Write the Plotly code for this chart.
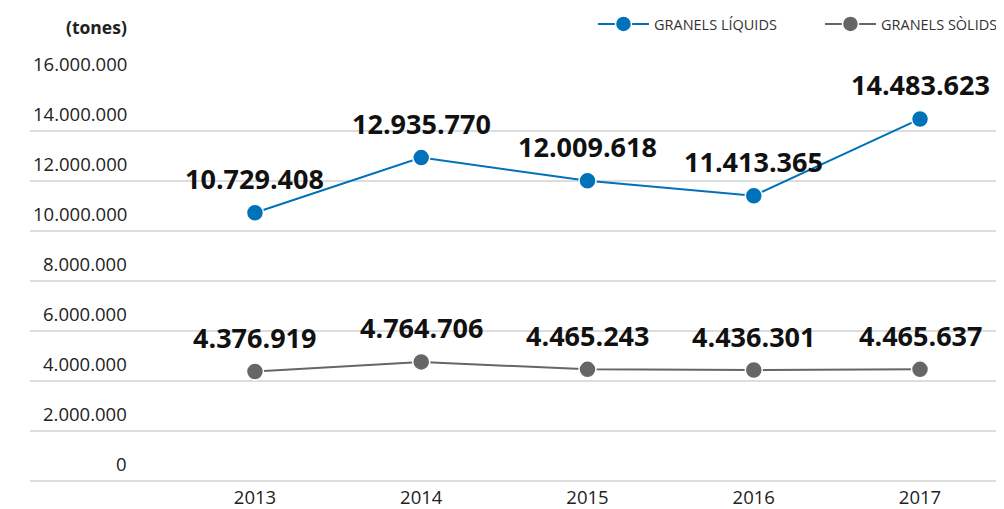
import plotly.graph_objects as go

years = [2013, 2014, 2015, 2016, 2017]
liquids = [10729408, 12935770, 12009618, 11413365, 14483623]
solids = [4376919, 4764706, 4465243, 4436301, 4465637]
y_ticks = [0, 2000000, 4000000, 6000000, 8000000, 10000000, 12000000, 14000000, 16000000]
series_names = ["GRANELS LÍQUIDS", "GRANELS SÒLIDS"]
colors = ["#0072B9", "#666666"]

def fmt(v):
    return f"{v:,}".replace(",", ".")

fig = go.Figure()
for name, vals, col in zip(series_names, [liquids, solids], colors):
    fig.add_trace(go.Scatter(
        x=years, y=vals, name=name, mode="lines+markers",
        line=dict(color=col, width=2),
        marker=dict(size=17, color=col, line=dict(color="white", width=1.5)),
        hoverinfo="skip",
    ))

annotations = []
for vals in [liquids, solids]:
    for x, v in zip(years, vals):
        annotations.append(dict(
            x=x, y=v, xref="x", yref="y", text="<b>" + fmt(v) + "</b>", showarrow=False,
            yshift=34, font=dict(family="Open Sans", size=27, color="#111111"),
        ))
for t in y_ticks:
    annotations.append(dict(
        x=0.102, y=t, xref="paper", yref="y", text=fmt(t), showarrow=False,
        xanchor="right", yshift=18, font=dict(family="Open Sans", size=18.5, color="#222222"),
    ))
annotations.append(dict(
    x=0.102, y=1, xref="paper", yref="paper", text="<b>(tones)</b>", showarrow=False,
    xanchor="right", yanchor="middle", yshift=54, font=dict(family="Open Sans", size=17.5, color="#222222"),
))

# page body has an 8px margin, so the figure is sized to fill the rest of the window
fig.update_layout(
    width=996, height=501,
    margin=dict(l=22, r=0, t=73, b=28, autoexpand=False),
    plot_bgcolor="white", paper_bgcolor="white",
    font=dict(family="Open Sans", size=15, color="#222222"),
    showlegend=True,
    legend=dict(orientation="h", x=0.578, xanchor="left", y=1.0, yanchor="top", yref="container",
                font=dict(size=14.5, color="#333333"), itemwidth=51, entrywidth=161,
                bgcolor="rgba(0,0,0,0)", tracegroupgap=0),
    annotations=annotations,
    xaxis=dict(range=[2011.647, 2017.505], tickvals=years, ticktext=[str(y) for y in years],
               showgrid=False, zeroline=False, showline=False, ticks="", ticklabelstandoff=3,
               tickfont=dict(size=18.5, color="#222222")),
    yaxis=dict(range=[0, 16000000], tickvals=y_ticks, showticklabels=False,
               showgrid=True, gridcolor="#dddddd", gridwidth=1.5, zeroline=True,
               zerolinecolor="#dddddd", zerolinewidth=1.5, ticks=""),
)
fig.write_html("out.html")
